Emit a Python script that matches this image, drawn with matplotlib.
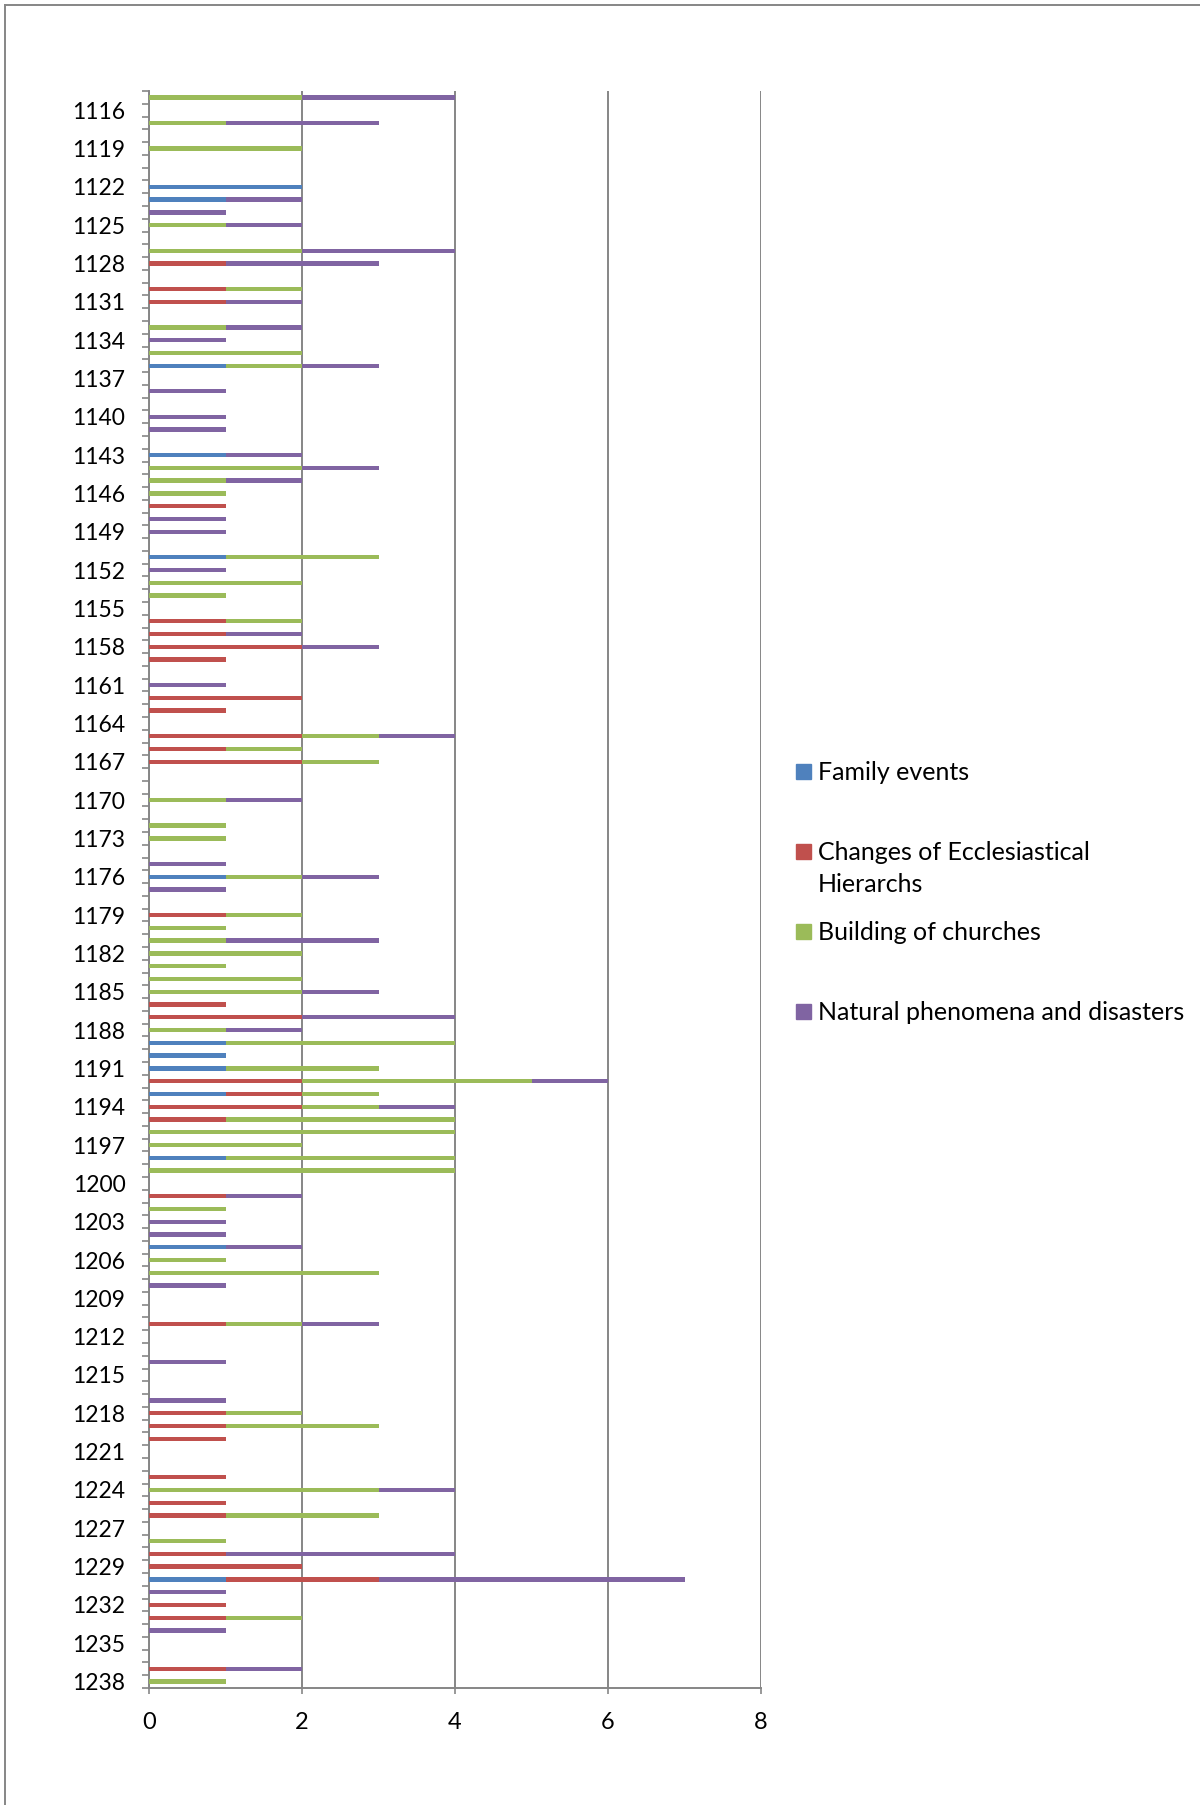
import numpy as np
import matplotlib.pyplot as plt
from matplotlib.lines import Line2D
from matplotlib.patches import Rectangle

plt.rcParams.update({
    "font.family": ["Lato", "DejaVu Sans"],
    "font.size": 17,
})

# one row per year, top to bottom (1228 appears twice in the source table)
years = [str(y) for y in range(1115, 1229)] + ["1228"] + [str(y) for y in range(1229, 1239)]

family = [
    0, 0, 0, 0, 0, 0, 0, 2, 1, 0,   # 1115-1124
    0, 0, 0, 0, 0, 0, 0, 0, 0, 0,   # 1125-1134
    0, 1, 0, 0, 0, 0, 0, 0, 1, 0,   # 1135-1144
    0, 0, 0, 0, 0, 0, 1, 0, 0, 0,   # 1145-1154
    0, 0, 0, 0, 0, 0, 0, 0, 0, 0,   # 1155-1164
    0, 0, 0, 0, 0, 0, 0, 0, 0, 0,   # 1165-1174
    0, 1, 0, 0, 0, 0, 0, 0, 0, 0,   # 1175-1184
    0, 0, 0, 0, 1, 1, 1, 0, 1, 0,   # 1185-1194
    0, 0, 0, 1, 0, 0, 0, 0, 0, 0,   # 1195-1204
    1, 0, 0, 0, 0, 0, 0, 0, 0, 0,   # 1205-1214
    0, 0, 0, 0, 0, 0, 0, 0, 0, 0,   # 1215-1224
    0, 0, 0, 0, 0, 0, 1, 0, 0, 0,   # 1225-1233
    0, 0, 0, 0, 0,                  # 1234-1238
]
hierarchs = [
    0, 0, 0, 0, 0, 0, 0, 0, 0, 0,
    0, 0, 0, 1, 0, 1, 1, 0, 0, 0,
    0, 0, 0, 0, 0, 0, 0, 0, 0, 0,
    0, 0, 1, 0, 0, 0, 0, 0, 0, 0,
    0, 1, 1, 2, 1, 0, 0, 2, 1, 0,
    2, 1, 2, 0, 0, 0, 0, 0, 0, 0,
    0, 0, 0, 0, 1, 0, 0, 0, 0, 0,
    0, 1, 2, 0, 0, 0, 0, 2, 1, 2,
    1, 0, 0, 0, 0, 0, 1, 0, 0, 0,
    0, 0, 0, 0, 0, 0, 1, 0, 0, 0,
    0, 0, 0, 1, 1, 1, 0, 0, 1, 0,
    1, 1, 0, 0, 1, 2, 2, 0, 1, 1,
    0, 0, 0, 1, 0,
]
churches = [
    2, 0, 1, 0, 2, 0, 0, 0, 0, 0,
    1, 0, 2, 0, 0, 1, 0, 0, 1, 0,
    2, 1, 0, 0, 0, 0, 0, 0, 0, 2,
    1, 1, 0, 0, 0, 0, 2, 0, 2, 1,
    0, 1, 0, 0, 0, 0, 0, 0, 0, 0,
    1, 1, 1, 0, 0, 1, 0, 1, 1, 0,
    0, 1, 0, 0, 1, 1, 1, 2, 1, 2,
    2, 0, 0, 1, 3, 0, 2, 3, 1, 1,
    3, 4, 2, 3, 4, 0, 0, 1, 0, 0,
    0, 1, 3, 0, 0, 0, 1, 0, 0, 0,
    0, 0, 0, 1, 2, 0, 0, 0, 0, 3,
    0, 2, 0, 1, 0, 0, 0, 0, 0, 1,
    0, 0, 0, 0, 1,
]
nature = [
    2, 0, 2, 0, 0, 0, 0, 0, 1, 1,
    1, 0, 2, 2, 0, 0, 1, 0, 1, 1,
    0, 1, 0, 1, 0, 1, 1, 0, 1, 1,
    1, 0, 0, 1, 1, 0, 0, 1, 0, 0,
    0, 0, 1, 1, 0, 0, 1, 0, 0, 0,
    1, 0, 0, 0, 0, 1, 0, 0, 0, 0,
    1, 1, 1, 0, 0, 0, 2, 0, 0, 0,
    1, 0, 2, 1, 0, 0, 0, 1, 0, 1,
    0, 0, 0, 0, 0, 0, 1, 0, 1, 1,
    1, 0, 0, 1, 0, 0, 1, 0, 0, 1,
    0, 0, 1, 0, 0, 0, 0, 0, 0, 1,
    0, 0, 0, 0, 3, 0, 4, 1, 0, 0,
    1, 0, 0, 1, 0,
]

series = [
    ("Family events", family, "#4F81BD"),
    ("Changes of Ecclesiastical\nHierarchs", hierarchs, "#C0504D"),
    ("Building of churches", churches, "#9BBB59"),
    ("Natural phenomena and disasters", nature, "#8064A2"),
]

grey = "#868686"
n = len(years)
pos = np.arange(n)

fig = plt.figure(figsize=(12, 18.05), dpi=100)
ax = fig.add_axes([149 / 1200, 117 / 1805, 612 / 1200, 1597 / 1805])

left = np.zeros(n)
for name, vals, col in series:
    vals = np.array(vals, dtype=float)
    ax.barh(pos, vals, left=left, height=0.34, color=col, zorder=3)
    left += vals

ax.set_xlim(0, 8)
ax.set_ylim(n - 0.5, -0.5)
ax.set_xticks([0, 2, 4, 6, 8])
ax.xaxis.grid(True, color=grey, linewidth=1.4, zorder=1)

# labels every third year counted from the bottom row
lab_idx = list(range(n - 1, -1, -3))[::-1]
ax.set_yticks(lab_idx)
ax.set_yticklabels([years[i] for i in lab_idx])
ax.set_yticks(np.arange(n + 1) - 0.5, minor=True)
ax.tick_params(axis="y", which="major", length=0, pad=17, labelsize=16.5)
ax.tick_params(axis="y", which="minor", length=5, width=1.2, color=grey, direction="out")
ax.tick_params(axis="x", length=4, width=1.2, color=grey, pad=13, labelsize=17)

for s in ("top", "right"):
    ax.spines[s].set_visible(False)
for s in ("left", "bottom"):
    ax.spines[s].set_color(grey)
    ax.spines[s].set_linewidth(1.4)

# legend on the right
H, W = 1805, 1200
leg_y = [772, 852, 932, 1012]
for (name, vals, col), y in zip(series, leg_y):
    fig.patches.append(Rectangle((796 / W, 1 - (y + 7) / H), 15 / W, 15 / H,
                                 transform=fig.transFigure, color=col))
    for k, line in enumerate(name.split("\n")):
        fig.text(818 / W, 1 - (y + 32 * k) / H, line, va="center", ha="left",
                 fontsize=18)

# chart frame (left and top edges)
fig.add_artist(Line2D([5 / W, 5 / W], [0, 1 - 5 / H], transform=fig.transFigure,
                      color=grey, linewidth=1.4))
fig.add_artist(Line2D([5 / W, 1], [1 - 5 / H, 1 - 5 / H], transform=fig.transFigure,
                      color=grey, linewidth=1.4))

fig.savefig("out.png", dpi=100)
